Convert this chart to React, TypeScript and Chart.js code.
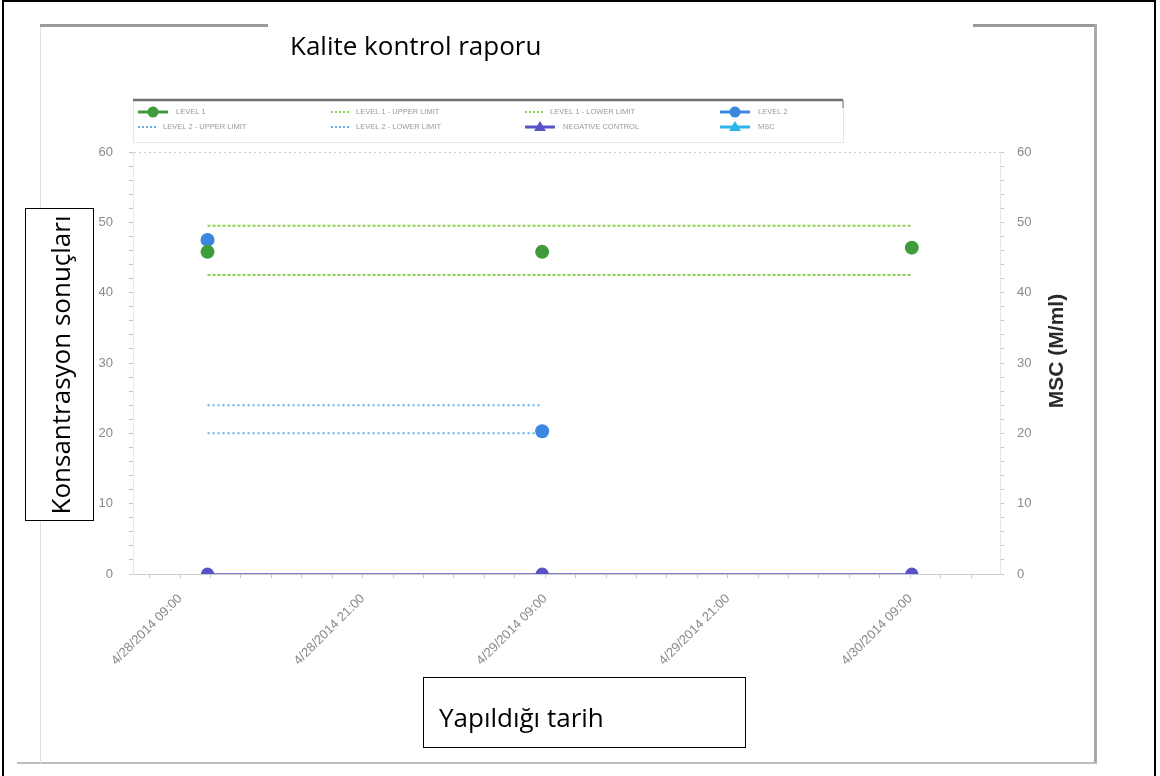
import React, { useEffect, useRef } from 'react';
import { Chart, registerables } from 'chart.js';

Chart.register(...registerables);

// ---- data (x = hours since 4/28/2014 00:00) ----
const sampleHours = [10.8, 32.8, 57.1];
const level1Values = [45.8, 45.8, 46.4];
const level1UpperValues = [49.5, 49.5, 49.5];
const level1LowerValues = [42.5, 42.5, 42.5];
const level2Hours = [10.8, 32.8];
const level2Values = [47.5, 20.3];
const level2UpperValues = [24.0, 24.0];
const level2LowerValues = [20.0, 20.0];
const negativeControlValues = [0, 0, 0];
const mscValues: number[] = [];

const seriesLabels = [
  'LEVEL 1',
  'LEVEL 1 - UPPER LIMIT',
  'LEVEL 1 - LOWER LIMIT',
  'LEVEL 2',
  'LEVEL 2 - UPPER LIMIT',
  'LEVEL 2 - LOWER LIMIT',
  'NEGATIVE CONTROL',
  'MSC',
];

const xTickHours = [9, 21, 33, 45, 57];
const xTickLabels = [
  '4/28/2014 09:00',
  '4/28/2014 21:00',
  '4/29/2014 09:00',
  '4/29/2014 21:00',
  '4/30/2014 09:00',
];
const yTickLabels = ['0', '10', '20', '30', '40', '50', '60'];

const pts = (xs: number[], ys: number[]) => ys.map((y, i) => ({ x: xs[i], y }));

const GREEN = '#3f9b3b';
const GREEN_LIMIT = '#8fd24f';
const BLUE = '#3b86de';
const BLUE_LIMIT = '#68ade9';
const PURPLE = '#5a50c8';
const CYAN = '#2bb6ea';

// clips datasets flagged with clipToArea exactly at the plot area (markers on the axis show only their top half)
const areaClipPlugin = {
  id: 'areaClip',
  beforeDatasetDraw(chart: any, args: any) {
    const ds = chart.data.datasets[args.index];
    if (!ds || !ds.clipToArea) return;
    const a = chart.chartArea;
    const ctx = chart.ctx as CanvasRenderingContext2D;
    ctx.save();
    ctx.beginPath();
    ctx.rect(0, 0, chart.width, a.bottom + 0.6);
    ctx.clip();
  },
  afterDatasetDraw(chart: any, args: any) {
    const ds = chart.data.datasets[args.index];
    if (!ds || !ds.clipToArea) return;
    chart.ctx.restore();
  },
};

const legendPlugin = {
  id: 'gridLegend',
  afterDraw(chart: any) {
    const ctx = chart.ctx as CanvasRenderingContext2D;
    ctx.save();
    const left = 133, top = 100, right = 843, bottom = 142;
    ctx.strokeStyle = '#e6e6e6';
    ctx.lineWidth = 1;
    ctx.strokeRect(left + 0.5, top + 0.5, right - left, bottom - top);
    ctx.strokeStyle = '#6f6f6f';
    ctx.lineWidth = 2.5;
    ctx.beginPath();
    ctx.moveTo(left, top);
    ctx.lineTo(right, top);
    ctx.stroke();
    ctx.strokeStyle = '#9a9a9a';
    ctx.lineWidth = 1.5;
    ctx.beginPath();
    ctx.moveTo(right, top);
    ctx.lineTo(right, top + 8);
    ctx.stroke();

    const cols = [138, 331, 525, 720];
    const rows = [112, 127];
    chart.data.datasets.forEach((ds: any, i: number) => {
      const x = cols[i % 4];
      const y = rows[Math.floor(i / 4)];
      const color = ds.legendColor;
      let textX;
      if (ds.legendKind === 'limit') {
        ctx.strokeStyle = color;
        ctx.lineWidth = 2;
        ctx.setLineDash([2, 2]);
        ctx.beginPath();
        ctx.moveTo(x, y);
        ctx.lineTo(x + 20, y);
        ctx.stroke();
        ctx.setLineDash([]);
        textX = x + 25;
      } else {
        ctx.strokeStyle = color;
        ctx.lineWidth = 3;
        ctx.beginPath();
        ctx.moveTo(x, y);
        ctx.lineTo(x + 30, y);
        ctx.stroke();
        ctx.fillStyle = color;
        ctx.beginPath();
        if (ds.legendKind === 'triangle') {
          ctx.moveTo(x + 15, y - 6);
          ctx.lineTo(x + 21, y + 4);
          ctx.lineTo(x + 9, y + 4);
          ctx.closePath();
        } else {
          ctx.arc(x + 15, y, 5.5, 0, Math.PI * 2);
        }
        ctx.fill();
        textX = x + 38;
      }
      ctx.fillStyle = '#999999';
      ctx.font = '7.5px "Liberation Sans", Arial, sans-serif';
      ctx.textBaseline = 'middle';
      ctx.textAlign = 'left';
      ctx.fillText(ds.label, textX, y);
    });
    ctx.restore();
  },
};

export default function App() {
  const canvasRef = useRef<HTMLCanvasElement | null>(null);

  useEffect(() => {
    document.body.style.margin = '0';
    const canvas = canvasRef.current;
    if (!canvas) return;

    const yAxisTicks = (scale: any) => {
      const t = [];
      for (let v = 0; v <= 60; v += 2) t.push({ value: v });
      scale.ticks = t;
    };
    const yLabel = (v: any) => {
      const idx = yTickLabels.indexOf(String(v));
      return idx >= 0 ? yTickLabels[idx] : '';
    };
    const tickFont = { family: '"Liberation Sans", Arial, sans-serif', size: 13 };

    const chart = new Chart(canvas, {
      type: 'line',
      data: {
        datasets: [
          {
            label: seriesLabels[0],
            data: pts(sampleHours, level1Values),
            showLine: false,
            pointRadius: 7,
            pointHoverRadius: 7,
            pointBackgroundColor: GREEN,
            pointBorderWidth: 0,
            borderColor: GREEN,
            legendKind: 'circle',
            legendColor: GREEN,
          } as any,
          {
            label: seriesLabels[1],
            data: pts(sampleHours, level1UpperValues),
            borderColor: GREEN_LIMIT,
            borderWidth: 2,
            borderDash: [3, 2],
            pointRadius: 0,
            legendKind: 'limit',
            legendColor: GREEN_LIMIT,
          } as any,
          {
            label: seriesLabels[2],
            data: pts(sampleHours, level1LowerValues),
            borderColor: GREEN_LIMIT,
            borderWidth: 2,
            borderDash: [3, 2],
            pointRadius: 0,
            legendKind: 'limit',
            legendColor: GREEN_LIMIT,
          } as any,
          {
            label: seriesLabels[3],
            data: pts(level2Hours, level2Values),
            showLine: false,
            pointRadius: 7,
            pointHoverRadius: 7,
            pointBackgroundColor: BLUE,
            pointBorderWidth: 0,
            borderColor: BLUE,
            legendKind: 'circle',
            legendColor: BLUE,
          } as any,
          {
            label: seriesLabels[4],
            data: pts(level2Hours, level2UpperValues),
            borderColor: BLUE_LIMIT,
            borderWidth: 2,
            borderDash: [2, 3],
            pointRadius: 0,
            legendKind: 'limit',
            legendColor: BLUE_LIMIT,
          } as any,
          {
            label: seriesLabels[5],
            data: pts(level2Hours, level2LowerValues),
            borderColor: BLUE_LIMIT,
            borderWidth: 2,
            borderDash: [2, 3],
            pointRadius: 0,
            legendKind: 'limit',
            legendColor: BLUE_LIMIT,
          } as any,
          {
            label: seriesLabels[6],
            data: pts(sampleHours, negativeControlValues),
            borderColor: PURPLE,
            borderWidth: 1.5,
            pointStyle: 'circle',
            pointRadius: 6.5,
            pointHoverRadius: 6.5,
            pointBackgroundColor: PURPLE,
            pointBorderWidth: 0,
            clipToArea: true,
            legendKind: 'triangle',
            legendColor: PURPLE,
          } as any,
          {
            label: seriesLabels[7],
            data: pts(sampleHours, mscValues),
            yAxisID: 'y2',
            borderColor: CYAN,
            pointStyle: 'triangle',
            pointBackgroundColor: CYAN,
            legendKind: 'triangle',
            legendColor: CYAN,
          } as any,
        ],
      },
      options: {
        animation: false,
        responsive: false,
        events: [],
        layout: { padding: { top: 152, left: 0, right: 0, bottom: 0 } },
        plugins: {
          legend: { display: false },
          tooltip: { enabled: false },
          title: { display: false },
        },
        scales: {
          x: {
            type: 'linear',
            min: 5.9,
            max: 62.9,
            afterBuildTicks: (scale: any) => {
              const t = [];
              for (let h = 7; h <= 61; h += 2) t.push({ value: h });
              scale.ticks = t;
            },
            afterFit: (scale: any) => {
              scale.height = 202;
            },
            ticks: {
              autoSkip: false,
              minRotation: 45,
              maxRotation: 45,
              padding: 13,
              color: '#8a8a8a',
              font: tickFont,
              callback: (v: any) => {
                const idx = xTickHours.indexOf(Number(v));
                return idx >= 0 ? xTickLabels[idx] : '';
              },
            },
            grid: {
              drawOnChartArea: false,
              drawTicks: true,
              tickLength: 4,
              tickColor: '#c4c4c4',
            },
            border: { display: true, color: '#cdcdcd', width: 1 },
          },
          y: {
            type: 'linear',
            position: 'left',
            min: 0,
            max: 60,
            afterBuildTicks: yAxisTicks,
            afterFit: (scale: any) => {
              scale.width = 133;
            },
            ticks: {
              autoSkip: false,
              padding: 16,
              color: '#8a8a8a',
              font: tickFont,
              callback: yLabel,
            },
            grid: {
              drawOnChartArea: true,
              tickLength: 4,
              tickColor: '#c4c4c4',
              color: (c: any) => (c.tick && c.tick.value === 60 ? '#c8c8c8' : 'rgba(0,0,0,0)'),
            },
            border: { display: true, color: '#e6e6e6', dash: [2, 3] },
          },
          y2: {
            type: 'linear',
            position: 'right',
            min: 0,
            max: 60,
            afterBuildTicks: yAxisTicks,
            afterFit: (scale: any) => {
              scale.width = 160;
            },
            ticks: {
              autoSkip: false,
              padding: 13,
              color: '#8a8a8a',
              font: tickFont,
              callback: yLabel,
            },
            grid: {
              drawOnChartArea: false,
              tickLength: 4,
              tickColor: '#c4c4c4',
            },
            border: { display: true, color: '#e6e6e6' },
          },
        },
      } as any,
      plugins: [areaClipPlugin, legendPlugin],
    });

    return () => chart.destroy();
  }, []);

  const abs = (s: React.CSSProperties): React.CSSProperties => ({ position: 'absolute', ...s });
  const overlayFont = '"Open Sans", "Noto Sans", sans-serif';

  return (
    <div style={{ position: 'relative', width: 1160, height: 776, background: '#ffffff', overflow: 'hidden' }}>
      <canvas ref={canvasRef} width={1160} height={776} style={abs({ left: 0, top: 0, width: 1160, height: 776 })} />

      {/* scanned frame lines */}
      <div style={abs({ left: 40, top: 24, width: 228, height: 3, background: '#9a9a9a' })} />
      <div style={abs({ left: 973, top: 24, width: 124, height: 3, background: '#9a9a9a' })} />
      <div style={abs({ left: 1094, top: 24, width: 3, height: 740, background: '#a8a8a8' })} />
      <div style={abs({ left: 17, top: 762, width: 1080, height: 2, background: '#bdbdbd' })} />
      <div style={abs({ left: 40, top: 27, width: 1, height: 736, background: '#e2dcdc' })} />

      {/* outer black frame */}
      <div style={abs({ left: 2, top: 0, width: 1154, height: 790, border: '2px solid #000', boxSizing: 'border-box' })} />

      {/* title */}
      <div style={abs({ left: 290, top: 27, fontFamily: overlayFont, fontSize: 26, lineHeight: '36px', color: '#000', whiteSpace: 'nowrap' })}>
        Kalite kontrol raporu
      </div>

      {/* right axis title */}
      <div
        style={abs({
          left: 1056,
          top: 351,
          transform: 'translate(-50%, -50%) rotate(-90deg)',
          fontFamily: '"Liberation Sans", Arial, sans-serif',
          fontWeight: 'bold',
          fontSize: 21,
          color: '#2a2a2a',
          whiteSpace: 'nowrap',
        })}
      >
        MSC (M/ml)
      </div>

      {/* y label box */}
      <div
        style={abs({
          left: 25,
          top: 208,
          width: 69,
          height: 313,
          border: '1.5px solid #000',
          boxSizing: 'border-box',
          background: '#fff',
        })}
      >
        <div
          style={abs({
            left: '50%',
            top: '50%',
            transform: 'translate(-50%, -50%) rotate(-90deg)',
            fontFamily: overlayFont,
            fontSize: 26,
            lineHeight: '36px',
            color: '#000',
            whiteSpace: 'nowrap',
          })}
        >
          Konsantrasyon sonuçları
        </div>
      </div>

      {/* x label box */}
      <div
        style={abs({
          left: 423,
          top: 677,
          width: 323,
          height: 71,
          border: '1.5px solid #000',
          boxSizing: 'border-box',
          background: '#fff',
        })}
      >
        <div style={abs({ left: 15, top: 21, fontFamily: overlayFont, fontSize: 26, lineHeight: '36px', color: '#000', whiteSpace: 'nowrap' })}>
          Yapıldığı tarih
        </div>
      </div>
    </div>
  );
}
